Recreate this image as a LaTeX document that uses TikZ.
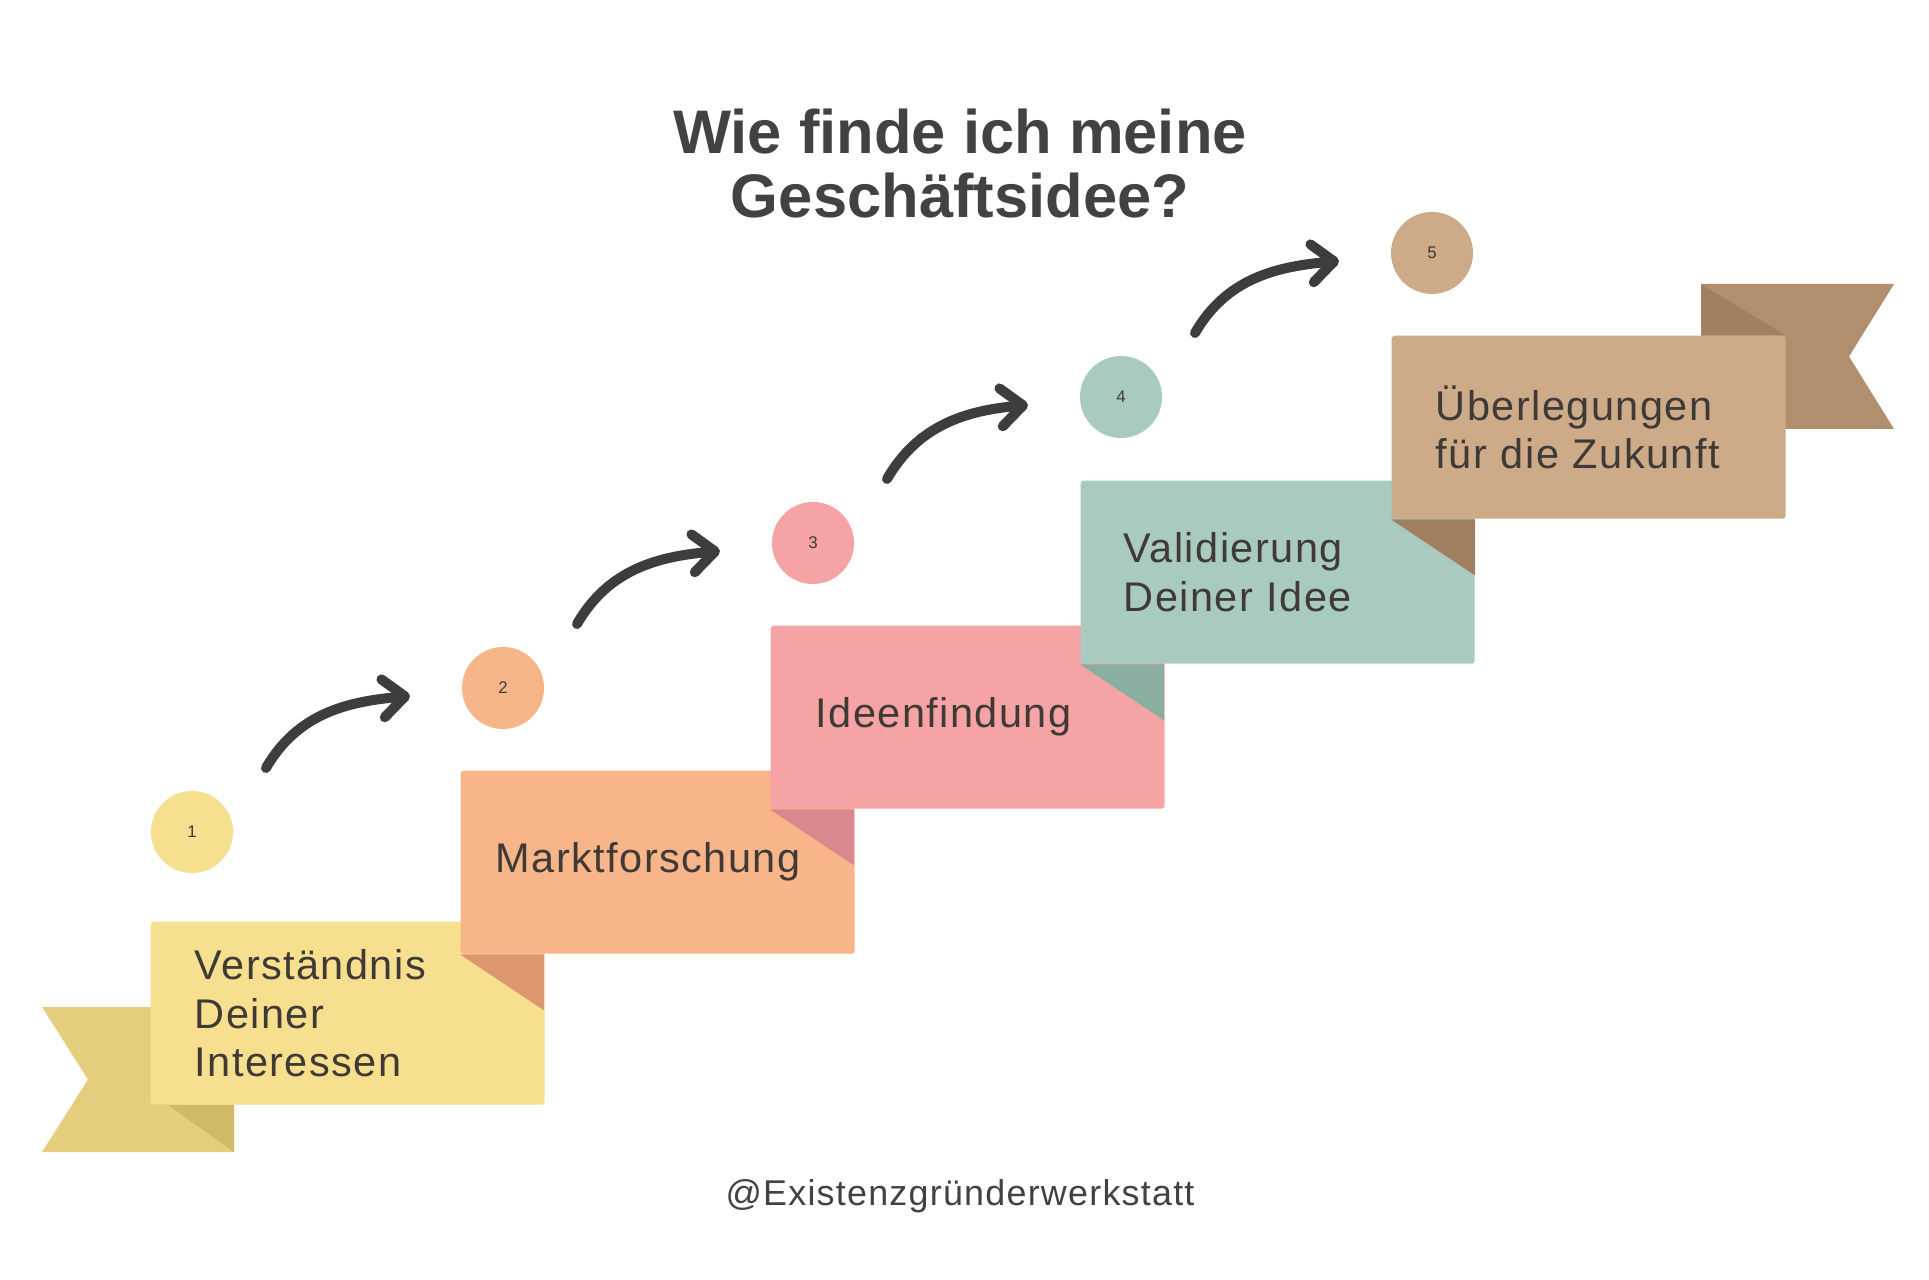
\documentclass[tikz,border=0pt]{standalone}
\usepackage{fontspec}
\setmainfont{Liberation Sans}
\newfontfamily\cardfont{Liberation Sans}[LetterSpace=3.5]
\usepackage{tikz}
\usetikzlibrary{arrows.meta,calc}

\definecolor{ink}{HTML}{3F3A36}
\definecolor{headgrey}{HTML}{424242}
\definecolor{arrowgrey}{HTML}{3D3D3D}
\definecolor{yelBox}{HTML}{F6DF8E}
\definecolor{yelTail}{HTML}{E4CD7C}
\definecolor{yelFold}{HTML}{D0BA68}
\definecolor{oraBox}{HTML}{F8B58A}
\definecolor{oraFold}{HTML}{DC9771}
\definecolor{pnkBox}{HTML}{F5A3A4}
\definecolor{pnkFold}{HTML}{D9888D}
\definecolor{grnBox}{HTML}{A9CBBF}
\definecolor{grnFold}{HTML}{8AAE9F}
\definecolor{tanBox}{HTML}{CDAA88}
\definecolor{tanFold}{HTML}{A08061}
\definecolor{tanTail}{HTML}{B18F6E}

\begin{document}
\begin{tikzpicture}[>=Stealth, font=\cardfont,
  card/.style={anchor=north west, rounded corners=0.03cm, minimum width=3.94cm, minimum height=1.83cm,
    text width=3.06cm, inner xsep=0.44cm, inner ysep=0pt, align=left, text=ink,
    font=\cardfont\fontsize{11.8}{13.7}\selectfont},
  badge/.style={circle, minimum size=0.82cm, inner sep=0pt, text=ink, font=\cardfont\fontsize{4.8}{5}\selectfont},
  curve/.style={draw=arrowgrey, line width=0.1cm, line cap=round, -{Straight Barb[length=0.22cm,width=0.38cm,round]}}]
  \fill[white] (0,0) rectangle (19.29,-12.80);
  \useasboundingbox (0,0) rectangle (19.29,-12.80);

  % title
  \node[anchor=base, text=headgrey, font=\bfseries\fontsize{17.5}{18.2}\selectfont] (title1) at (9.60,-1.54) {Wie finde ich meine};
  \node[anchor=base, text=headgrey, font=\bfseries\fontsize{17.5}{18.2}\selectfont] (title2) at (9.60,-2.18) {Geschäftsidee?};

  % ribbon ends
  \fill[yelTail] (0.42,-10.07) -- (2.34,-10.07) -- (2.34,-11.52) -- (0.42,-11.52) -- (0.88,-10.795) -- cycle;
  \fill[yelFold] (1.68,-11.05) -- (2.34,-11.05) -- (2.34,-11.52) -- cycle;
  \fill[tanTail] (17.01,-2.84) -- (18.94,-2.84) -- (18.49,-3.565) -- (18.94,-4.29) -- (17.01,-4.29) -- cycle;
  \fill[tanFold] (17.01,-2.84) -- (17.85,-3.35) -- (17.01,-3.35) -- cycle;

  % steps
  \node[card, fill=yelBox] (s1) at (1.50,-9.21) {Verständnis\\Deiner\\Interessen};
  \node[card, fill=oraBox, inner xsep=0.35cm, text width=3.24cm] (s2) at (4.60,-7.70) {Marktforschung};
  \fill[oraFold] (s2.south west) -- ++(0.84,0) -- ++(0,-0.56) -- cycle;
  \node[card, fill=pnkBox, inner xsep=0.45cm, text width=3.04cm] (s3) at (7.70,-6.25) {Ideenfindung};
  \fill[pnkFold] (s3.south west) -- ++(0.84,0) -- ++(0,-0.56) -- cycle;
  \node[card, fill=grnBox, inner xsep=0.43cm, text width=3.08cm] (s4) at (10.80,-4.80) {Validierung\\Deiner Idee};
  \fill[grnFold] (s4.south west) -- ++(0.84,0) -- ++(0,-0.56) -- cycle;
  \node[card, fill=tanBox] (s5) at (13.91,-3.35) {Überlegungen\\für die Zukunft};
  \fill[tanFold] (s5.south west) -- ++(0.84,0) -- ++(0,-0.56) -- cycle;

  % numbers
  \node[badge, fill=yelBox] (n1) at (1.92,-8.32) {1};
  \node[badge, fill=oraBox] (n2) at (5.03,-6.88) {2};
  \node[badge, fill=pnkBox] (n3) at (8.13,-5.43) {3};
  \node[badge, fill=grnBox] (n4) at (11.21,-3.97) {4};
  \node[badge, fill=tanBox] (n5) at (14.32,-2.53) {5};

  \draw[curve] ($(n1)+(0.74,0.64)$) to[out=60,in=185] ($(n2)+(-0.93,-0.08)$);
  \draw[curve] ($(n2)+(0.74,0.64)$) to[out=60,in=185] ($(n3)+(-0.93,-0.08)$);
  \draw[curve] ($(n3)+(0.74,0.64)$) to[out=60,in=185] ($(n4)+(-0.93,-0.08)$);
  \draw[curve] ($(n4)+(0.74,0.64)$) to[out=60,in=185] ($(n5)+(-0.93,-0.08)$);

  \node[anchor=base, text=headgrey, font=\cardfont\fontsize{10.2}{12}\selectfont] (credit) at (9.60,-12.05) {@Existenzgründerwerkstatt};
\end{tikzpicture}
\end{document}
